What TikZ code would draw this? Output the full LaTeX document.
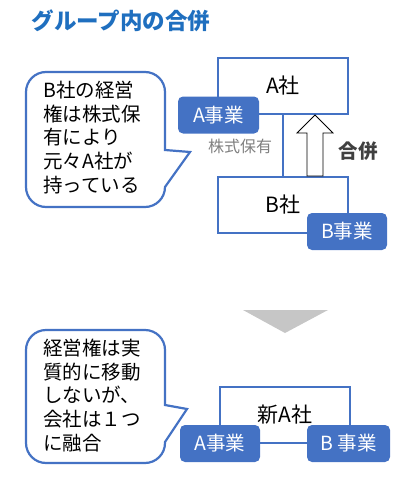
\documentclass[tikz,border=0pt]{standalone}
\usepackage{fontspec}
\setmainfont{Noto Sans CJK JP}
\usetikzlibrary{calc}
\definecolor{boxblue}{HTML}{4472C4}
\definecolor{titleblue}{HTML}{1F6FBF}
\definecolor{darktext}{HTML}{404040}
\begin{document}
\begin{tikzpicture}[x=1pt,y=-1pt,
    company/.style={draw=boxblue, line width=2pt, fill=white, minimum width=130pt, minimum height=56pt, inner sep=0pt, font=\fontsize{21}{24}\selectfont},
    business/.style={fill=boxblue, rounded corners=5pt, text=white, minimum width=81pt, minimum height=37pt, inner sep=0pt, font=\fontsize{19.5}{23}\selectfont},
    callout/.style={draw=boxblue, line width=2.2pt, fill=white},
    notetext/.style={anchor=west, align=left, inner sep=0pt, font=\fontsize{19.5}{23.7}\selectfont},
    hollowarrow/.style={draw=black, line width=0.8pt, fill=white, line join=miter}]
    \useasboundingbox (0,0) rectangle (416,495);

    % Titulo
    \node[anchor=west, text=titleblue, font=\fontsize{22.5}{26}\selectfont\bfseries] (title) at (28,21) {グループ内の合併};

    % Antes: A社 y B社
    \node[company] (asha) at (283,86) {A社};
    \node[company] (bsha) at (283,205) {B社};
    \draw[boxblue, line width=2pt] (asha) -- (bsha);
    \node[business] (ajigyo) at (218.5,115) {A事業};
    \node[business, minimum width=80pt] (bjigyo) at (347,231.5) {B事業};
    \node[text=gray, font=\fontsize{16}{19}\selectfont] (kabu) at (240,146) {株式保有};

    % Flecha hueca: 合併
    \coordinate (mtail) at ([xshift=32pt]bsha.north);
    \coordinate (mhead) at ([xshift=32pt]asha.south);
    \draw[hollowarrow] ($(mtail)+(-8,0)$) -- ($(mhead)+(-8,18)$) -- ($(mhead)+(-18,18)$)
        -- (mhead) -- ($(mhead)+(18,18)$) -- ($(mhead)+(8,18)$) -- ($(mtail)+(8,0)$) -- cycle;
    \node[text=darktext, font=\fontsize{19.5}{22}\selectfont\bfseries] (gappei) at (358,151) {合併};

    % Globo 1
    \draw[callout, rounded corners=20pt] (26,140) -- (26,72) -- (165,72) [sharp corners] -- (165,150)
        -- (190,152) -- (165,187) [rounded corners=20pt] -- (165,207) -- (26,207) -- cycle;
    \node[notetext] (note1) at (43,137.5) {B社の経営\\権は株式保\\有により\\元々A社が\\持っている};

    % Triangulo gris
    \fill[gray!45] (243,310) -- (328,310) -- (285,333) -- cycle;

    % Despues: 新A社
    \node[company] (newa) at (285,415) {新A社};
    \node[business, minimum width=80pt] (ajigyo2) at (220,443.5) {A事業};
    \node[business, minimum width=83pt] (bjigyo2) at (348.5,443.5) {B 事業};

    % Globo 2
    \draw[callout, rounded corners=20pt] (26,400) -- (26,330) -- (165,330) [sharp corners] -- (165,405)
        -- (187,409) -- (165,442) [rounded corners=20pt] -- (165,463) -- (26,463) -- cycle;
    \node[notetext] (note2) at (43,395.5) {経営権は実\\質的に移動\\しないが、\\会社は１つ\\に融合};
\end{tikzpicture}
\end{document}
